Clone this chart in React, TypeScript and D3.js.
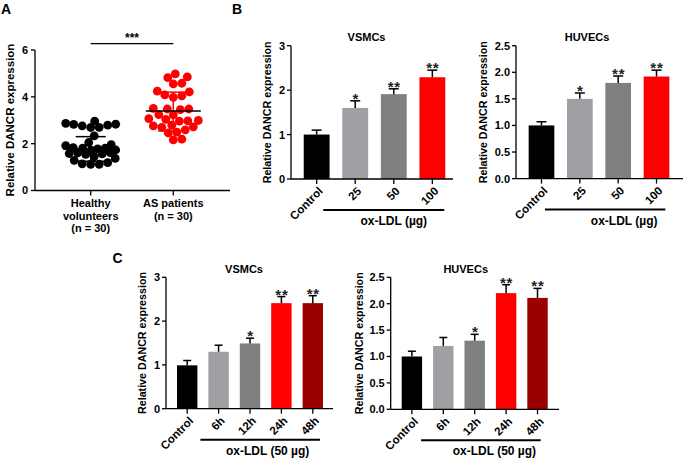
import React from "react";
import * as d3 from "d3";

// ---------- DATA ----------
const healthyValues = [
  2.76, 2.82, 2.96, 2.7, 2.69, 2.83, 2.79, 2.87, 2.33, 2.05, 1.96, 1.92, 1.83,
  1.81, 1.78, 1.73, 1.81, 1.62, 1.72, 1.61, 1.58, 1.56, 1.54, 1.37, 1.45, 1.29,
  1.19, 1.14, 1.12, 1.12,
];
const patientValues = [
  4.98, 4.82, 4.85, 4.58, 4.55, 4.24, 4.21, 3.98, 4.08, 4.04, 3.48, 3.48, 3.51,
  3.45, 3.24, 3.23, 2.97, 2.96, 3.07, 3.04, 2.99, 2.7, 2.76, 2.79, 2.72, 2.59,
  2.49, 2.16, 2.19, 2.46,
];
const groupLabels = [["Healthy", "volunteers", "(n = 30)"], ["AS patients", "(n = 30)"]];
const groupMeans = [1.77, 3.4];
const groupSDUpper = [2.3, 4.2];
const groupSDLower = [1.25, 2.54];
const scatterTicks = [0, 2, 4, 6];

const doseCategories = ["Control", "25", "50", "100"];
const vsmcDoseValues = [1.0, 1.6, 1.91, 2.29];
const vsmcDoseErrors = [0.1, 0.16, 0.12, 0.16];
const huvecDoseValues = [1.0, 1.5, 1.8, 1.92];
const huvecDoseErrors = [0.07, 0.11, 0.13, 0.12];
const doseStars = ["", "*", "**", "**"];
const doseColors = ["#000000", "#a0a0a4", "#808080", "#ff0000"];

const timeCategories = ["Control", "6h", "12h", "24h", "48h"];
const vsmcTimeValues = [0.99, 1.3, 1.49, 2.41, 2.41];
const vsmcTimeErrors = [0.11, 0.15, 0.12, 0.15, 0.17];
const huvecTimeValues = [1.0, 1.2, 1.3, 2.2, 2.11];
const huvecTimeErrors = [0.1, 0.16, 0.12, 0.16, 0.18];
const timeStars = ["", "", "*", "**", "**"];
const timeColors = ["#000000", "#a0a0a4", "#808080", "#ff0000", "#9b0000"];

const ticks3 = [0, 1, 2, 3];
const ticks25 = [0, 0.5, 1.0, 1.5, 2.0, 2.5];

const FONT = "'Liberation Sans', Arial, sans-serif";

// ---------- helpers ----------
function beeswarm(values: number[], y: (v: number) => number, r: number, maxOff: number) {
  const order = values.map((v, i) => i).sort((a, b) => values[a] - values[b]);
  const placed: { x: number; y: number }[] = [];
  const minD = 2 * r * 0.95;
  const cands: number[] = [0];
  for (let k = 1; k * 0.5 <= maxOff; k++) cands.push(k * 0.5, -k * 0.5);
  for (const i of order) {
    const py = y(values[i]);
    let best = 0;
    let bestD = -1;
    for (const c of cands) {
      const md = placed.length
        ? Math.min(...placed.map((p) => Math.hypot(p.x - c, p.y - py)))
        : Infinity;
      if (md >= minD) {
        best = c;
        break;
      }
      if (md > bestD) {
        bestD = md;
        best = c;
      }
    }
    placed.push({ x: best, y: py });
  }
  const out: { x: number; y: number }[] = [];
  order.forEach((idx, k) => (out[idx] = placed[k]));
  return out;
}

function YLabel({ x, y, size }: { x: number; y: number; size: number }) {
  return (
    <text
      transform={`translate(${x},${y}) rotate(-90)`}
      textAnchor="middle"
      fontSize={size}
      fontWeight="bold"
      fontFamily={FONT}
    >
      Relative DANCR expression
    </text>
  );
}

type BarProps = {
  axisX: number;
  axisEnd: number;
  y0: number;
  yTop: number;
  max: number;
  ticks: number[];
  fmt: (v: number) => string;
  cats: string[];
  values: number[];
  errors: number[];
  stars: string[];
  colors: string[];
  rangeW: number;
  pad: number;
  capW: number;
  title: string;
  titleShift: number;
  groupLabel: string;
  lineStart: number;
  lineEnd: number;
  labelShift: number;
  ylabelX: number;
};

function BarPanel(p: BarProps) {
  const y = d3.scaleLinear().domain([0, p.max]).range([p.y0, p.yTop]);
  const x = d3
    .scaleBand<string>()
    .domain(p.cats)
    .range([p.axisX, p.axisX + p.rangeW])
    .padding(p.pad);
  const bw = x.bandwidth();
  const cx = (c: string) => (x(c) as number) + bw / 2;
  const lineY = p.y0 + 31;
  const lx1 = (x(p.cats[1]) as number) + p.lineStart;
  const lx2 = (x(p.cats[p.cats.length - 1]) as number) + bw + p.lineEnd;
  const labX = (cx(p.cats[1]) + cx(p.cats[p.cats.length - 1])) / 2 + p.labelShift;
  const titleX = (cx(p.cats[0]) + cx(p.cats[p.cats.length - 1])) / 2 + p.titleShift;
  return (
    <g fontFamily={FONT}>
      <text x={titleX} y={p.yTop - 4.5} textAnchor="middle" fontSize={11} fontWeight="bold">
        {p.title}
      </text>
      {p.cats.map((c, i) => (
        <g key={c}>
          <rect
            x={x(c)}
            y={y(p.values[i])}
            width={bw}
            height={p.y0 - y(p.values[i])}
            fill={p.colors[i]}
          />
          <line
            x1={cx(c)}
            x2={cx(c)}
            y1={y(p.values[i])}
            y2={y(p.values[i] + p.errors[i])}
            stroke="#000"
            strokeWidth={1.5}
          />
          <line
            x1={cx(c) - p.capW / 2}
            x2={cx(c) + p.capW / 2}
            y1={y(p.values[i] + p.errors[i])}
            y2={y(p.values[i] + p.errors[i])}
            stroke="#000"
            strokeWidth={1.5}
          />
          {p.stars[i] && (
            <text
              x={cx(c) + 0.5}
              y={y(p.values[i] + p.errors[i]) + 3}
              textAnchor="middle"
              fontSize={15}
              fontWeight="bold"
              letterSpacing={0.8}
              fill="#222"
            >
              {p.stars[i]}
            </text>
          )}
          <line
            x1={cx(c)}
            x2={cx(c)}
            y1={p.y0}
            y2={p.y0 + 5}
            stroke="#000"
            strokeWidth={1.3}
          />
          <text
            transform={`translate(${cx(c) + 4},${p.y0 + 10}) rotate(-45)`}
            textAnchor="end"
            fontSize={11.5}
            fontWeight="bold"
            dy="0.35em"
          >
            {c}
          </text>
        </g>
      ))}
      <line x1={p.axisX} x2={p.axisX} y1={p.yTop} y2={p.y0} stroke="#000" strokeWidth={1.3} />
      <line x1={p.axisX} x2={p.axisEnd} y1={p.y0} y2={p.y0} stroke="#000" strokeWidth={1.3} />
      {p.ticks.map((t) => (
        <g key={t}>
          <line x1={p.axisX - 4} x2={p.axisX} y1={y(t)} y2={y(t)} stroke="#000" strokeWidth={1.3} />
          <text
            x={p.axisX - 6}
            y={y(t)}
            dy="0.36em"
            textAnchor="end"
            fontSize={11}
            fontWeight="bold"
          >
            {p.fmt(t)}
          </text>
        </g>
      ))}
      <line x1={lx1} x2={lx2} y1={lineY} y2={lineY} stroke="#000" strokeWidth={2} />
      <text x={labX} y={lineY + 15} textAnchor="middle" fontSize={12} fontWeight="bold">
        {p.groupLabel}
      </text>
      <YLabel x={p.ylabelX} y={(p.y0 + p.yTop) / 2} size={10.7} />
    </g>
  );
}

function ScatterPanel() {
  const axisX = 35;
  const axisEnd = 230;
  const y = d3.scaleLinear().domain([0, 6]).range([190.5, 50]);
  const x = d3.scalePoint<number>().domain([0, 1]).range([90.7, 173.3]);
  const r = 4.4;
  const groups = [healthyValues, patientValues];
  const colors = ["#000000", "#ff0000"];
  const halfMean = 27.5;
  const halfCap = 15;
  return (
    <g fontFamily={FONT}>
      <line x1={axisX} x2={axisX} y1={y(6)} y2={y(0)} stroke="#000" strokeWidth={1.3} />
      <line x1={axisX} x2={axisEnd} y1={y(0)} y2={y(0)} stroke="#000" strokeWidth={1.3} />
      {scatterTicks.map((t) => (
        <g key={t}>
          <line x1={axisX - 4} x2={axisX} y1={y(t)} y2={y(t)} stroke="#000" strokeWidth={1.3} />
          <text x={axisX - 7} y={y(t)} dy="0.36em" textAnchor="end" fontSize={11} fontWeight="bold">
            {t}
          </text>
        </g>
      ))}
      {groups.map((vals, gi) => {
        const cx = x(gi) as number;
        const pts = beeswarm(vals, y, r, 25);
        const sd = (
          <g>
            <line
              x1={cx}
              x2={cx}
              y1={y(groupSDLower[gi])}
              y2={y(groupSDUpper[gi])}
              stroke={colors[gi]}
              strokeWidth={1.5}
            />
            {[groupSDLower[gi], groupSDUpper[gi]].map((v, k) => (
              <line
                key={k}
                x1={cx - halfCap}
                x2={cx + halfCap}
                y1={y(v)}
                y2={y(v)}
                stroke={colors[gi]}
                strokeWidth={1.5}
              />
            ))}
          </g>
        );
        return (
          <g key={gi}>
            <line x1={cx} x2={cx} y1={y(0)} y2={y(0) + 5} stroke="#000" strokeWidth={1.3} />
            {gi === 0 && sd}
            {pts.map((pt, i) => (
              <circle key={i} cx={cx + pt.x} cy={pt.y} r={r} fill={colors[gi]} />
            ))}
            {gi === 1 && sd}
            <line
              x1={cx - halfMean}
              x2={cx + halfMean}
              y1={y(groupMeans[gi])}
              y2={y(groupMeans[gi])}
              stroke="#000"
              strokeWidth={1.5}
            />
            {groupLabels[gi].map((s, k) => (
              <text
                key={k}
                x={cx}
                y={207 + k * 12.7}
                textAnchor="middle"
                fontSize={11}
                fontWeight="bold"
              >
                {s}
              </text>
            ))}
          </g>
        );
      })}
      <line x1={x(0)} x2={x(1)} y1={43.7} y2={43.7} stroke="#000" strokeWidth={1.3} />
      <text
        x={((x(0) as number) + (x(1) as number)) / 2}
        y={42}
        textAnchor="middle"
        fontSize={12}
        fontWeight="bold"
      >
        ***
      </text>
      <YLabel x={14} y={120} size={11.5} />
    </g>
  );
}

export default function App() {
  const f1 = (v: number) => d3.format("d")(v);
  const f2 = (v: number) => d3.format(".1f")(v);
  return (
    <svg
      width={685}
      height={459}
      style={{ position: "absolute", left: 0, top: 0, background: "#fff" }}
    >
      <rect width={685} height={459} fill="#fff" />
      <g fontFamily={FONT} fontWeight="bold" fontSize={14}>
        <text x={1} y={13.5}>A</text>
        <text x={232} y={13.5}>B</text>
        <text x={112.5} y={263}>C</text>
      </g>
      <ScatterPanel />
      <BarPanel
        axisX={291} axisEnd={453} y0={179} yTop={45.7} max={3} ticks={ticks3} fmt={f1}
        cats={doseCategories} values={vsmcDoseValues} errors={vsmcDoseErrors} stars={doseStars}
        colors={doseColors} rangeW={167} pad={0.33} capW={10} title="VSMCs" titleShift={-8}
        groupLabel="ox-LDL (µg)" lineStart={-19} lineEnd={-1} labelShift={0} ylabelX={271}
      />
      <BarPanel
        axisX={516} axisEnd={683} y0={178.6} yTop={45.7} max={2.5} ticks={ticks25} fmt={f2}
        cats={doseCategories} values={huvecDoseValues} errors={huvecDoseErrors} stars={doseStars}
        colors={doseColors} rangeW={166} pad={0.33} capW={10} title="HUVECs" titleShift={-12}
        groupLabel="ox-LDL (µg)" lineStart={-22} lineEnd={-4} labelShift={6} ylabelX={487}
      />
      <BarPanel
        axisX={166} axisEnd={333} y0={408.7} yTop={277.3} max={3} ticks={ticks3} fmt={f1}
        cats={timeCategories} values={vsmcTimeValues} errors={vsmcTimeErrors} stars={timeStars}
        colors={timeColors} rangeW={168} pad={0.35} capW={8} title="VSMCs" titleShift={-6}
        groupLabel="ox-LDL (50 µg)" lineStart={-8} lineEnd={-3} labelShift={2} ylabelX={146}
      />
      <BarPanel
        axisX={390.7} axisEnd={559} y0={409.3} yTop={277.3} max={2.5} ticks={ticks25} fmt={f2}
        cats={timeCategories} values={huvecTimeValues} errors={huvecTimeErrors} stars={timeStars}
        colors={timeColors} rangeW={168} pad={0.35} capW={8} title="HUVECs" titleShift={-9}
        groupLabel="ox-LDL (50 µg)" lineStart={-12} lineEnd={-7} labelShift={4} ylabelX={363}
      />
    </svg>
  );
}
